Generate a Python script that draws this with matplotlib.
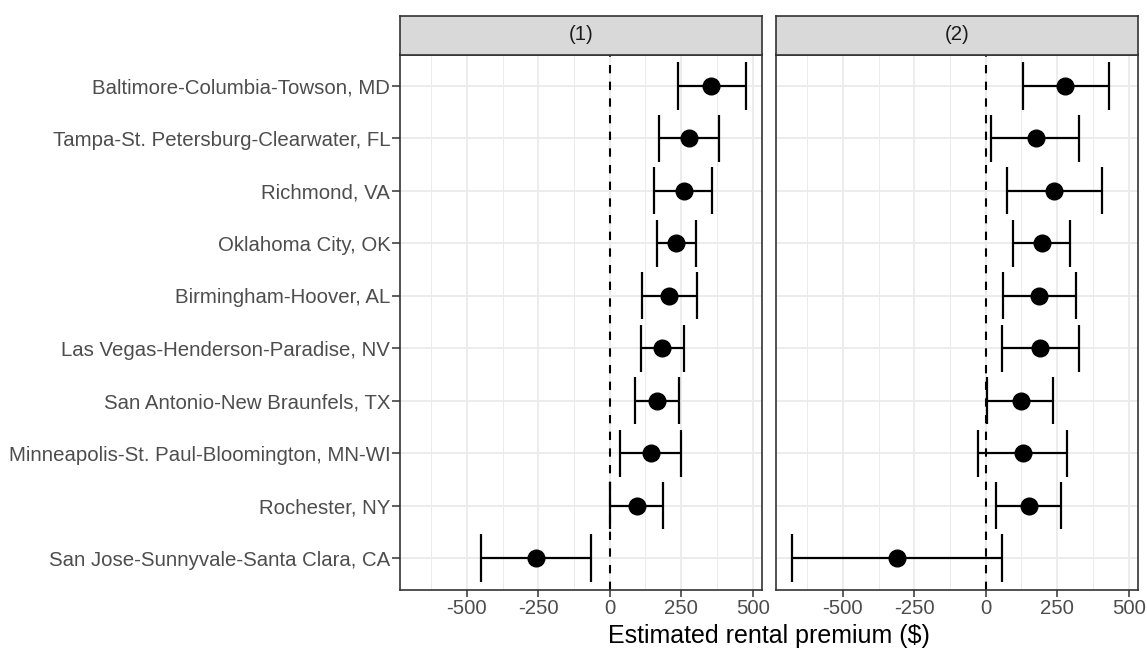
import matplotlib
matplotlib.use("Agg")
import matplotlib.pyplot as plt

plt.rcParams['font.family'] = ['Liberation Sans', 'DejaVu Sans']

metros = [
    "Baltimore-Columbia-Towson, MD",
    "Tampa-St. Petersburg-Clearwater, FL",
    "Richmond, VA",
    "Oklahoma City, OK",
    "Birmingham-Hoover, AL",
    "Las Vegas-Henderson-Paradise, NV",
    "San Antonio-New Braunfels, TX",
    "Minneapolis-St. Paul-Bloomington, MN-WI",
    "Rochester, NY",
    "San Jose-Sunnyvale-Santa Clara, CA",
]

est1 = [353, 277, 258, 232, 207, 184, 167, 143, 94, -258]
lo1 = [239, 174, 155, 165, 113, 109, 89, 37, 1, -450]
hi1 = [475, 381, 359, 302, 306, 260, 244, 248, 185, -64]

est2 = [278, 176, 240, 196, 187, 190, 123, 129, 151, -311]
lo2 = [129, 20, 75, 94, 60, 56, 6, -26, 36, -676]
hi2 = [432, 327, 405, 296, 315, 327, 237, 284, 263, 56]

panels = ["(1)", "(2)"]
xticks = [-500, -250, 0, 250, 500]
xticklabels = ["-500", "-250", "0", "250", "500"]
minor_ticks = [-625, -375, -125, 125, 375]
xlabel = "Estimated rental premium ($)"

W, H = 1147, 648
fig = plt.figure(figsize=(W / 100, H / 100), dpi=100)

panel_x = [(400, 762), (776, 1138)]
top, bottom = 54.5, 589.5
strip_top = 15.5

n = len(metros)
ypos = [n - i for i in range(n)]

allv = lo1 + hi1 + lo2 + hi2
xmin, xmax = min(allv), max(allv)
pad = 0.05 * (xmax - xmin)
xlim = (xmin - pad, xmax + pad)

grey20 = "#333333"
series = [(est1, lo1, hi1), (est2, lo2, hi2)]
fs = 14.7

for k, ((x0, x1), (est, lo, hi)) in enumerate(zip(panel_x, series)):
    ax = fig.add_axes([x0 / W, 1 - bottom / H, (x1 - x0) / W, (bottom - top) / H])
    ax.set_xlim(*xlim)
    ax.set_ylim(0.4, n + 0.6)
    for m in minor_ticks:
        ax.axvline(m, color="#EBEBEB", lw=0.7, zorder=0)
    for t in xticks:
        ax.axvline(t, color="#EBEBEB", lw=1.3, zorder=0)
    for y in ypos:
        ax.axhline(y, color="#EBEBEB", lw=1.3, zorder=0)
    ax.axvline(0, color="black", lw=1.5, ls=(0, (4, 4)), zorder=1)
    ax.hlines(ypos, lo, hi, color="black", lw=1.6, zorder=2)
    ax.vlines(lo, [y - 0.45 for y in ypos], [y + 0.45 for y in ypos], color="black", lw=1.6, zorder=2)
    ax.vlines(hi, [y - 0.45 for y in ypos], [y + 0.45 for y in ypos], color="black", lw=1.6, zorder=2)
    ax.plot(est, ypos, "o", color="black", markersize=12, zorder=3)

    ax.set_xticks(xticks)
    ax.set_xticklabels(xticklabels, fontsize=fs, color="#4D4D4D")
    ax.set_yticks(ypos)
    if k == 0:
        ax.set_yticklabels(metros, fontsize=fs, color="#4D4D4D")
        ax.tick_params(axis="y", length=5.5, width=1.1, color=grey20, pad=1.5)
    else:
        ax.set_yticklabels([])
        ax.tick_params(axis="y", length=0)
    ax.tick_params(axis="x", length=5, width=1.1, color=grey20, pad=2)
    for s in ax.spines.values():
        s.set_color(grey20)
        s.set_linewidth(1.2)
    ax.set_facecolor("white")

    sax = fig.add_axes([x0 / W, 1 - top / H, (x1 - x0) / W, (top - strip_top) / H])
    sax.set_xticks([])
    sax.set_yticks([])
    sax.set_facecolor("#D9D9D9")
    for s in sax.spines.values():
        s.set_color(grey20)
        s.set_linewidth(1.2)
    sax.text(0.5, 0.5, panels[k], ha="center", va="center", fontsize=fs,
             color="#1A1A1A", transform=sax.transAxes)

fig.text((400 + 1138) / 2 / W, 1 - 636 / H, xlabel, ha="center", va="center",
         fontsize=18, color="black")

fig.savefig("out.png", dpi=100, facecolor="white")
